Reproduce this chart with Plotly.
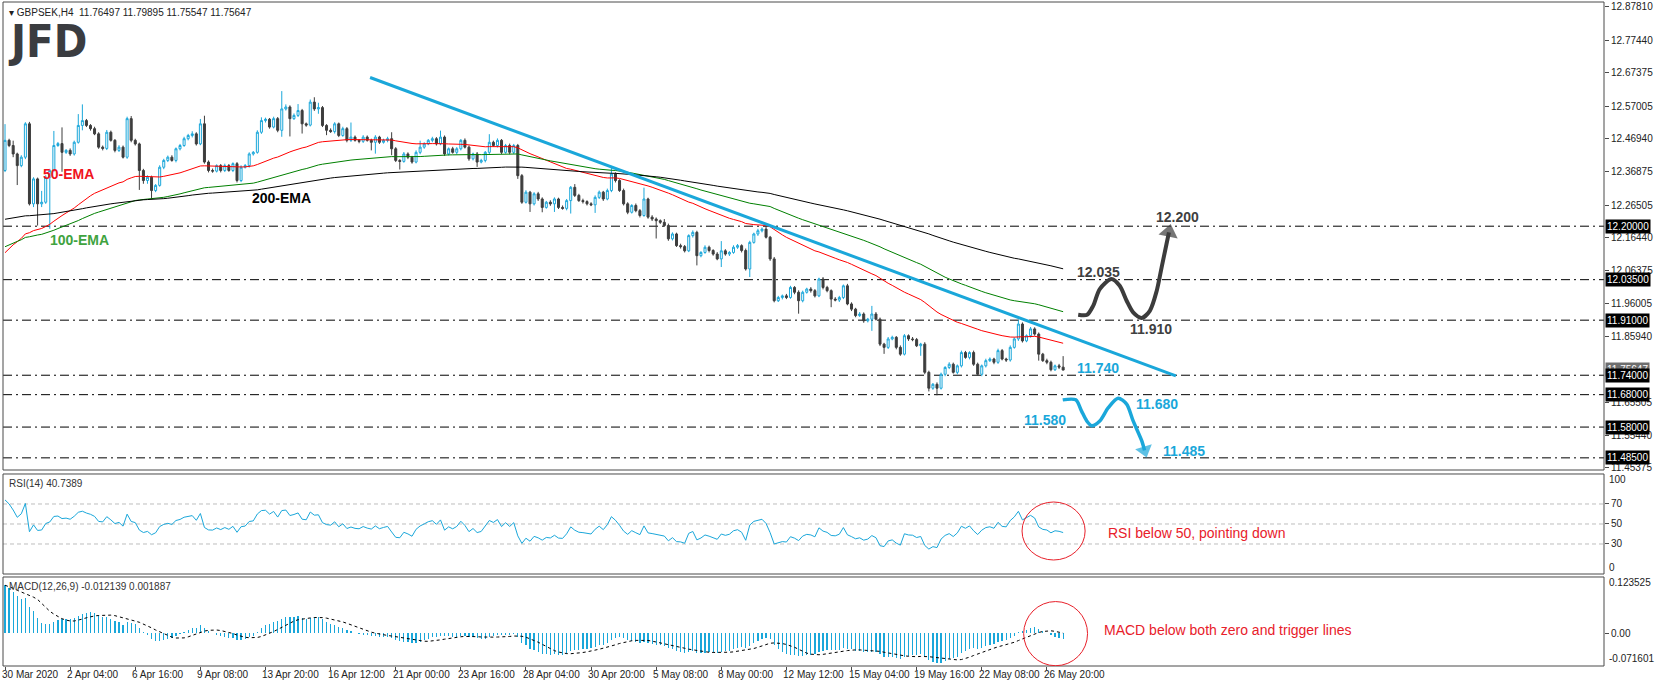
import plotly.graph_objects as go

# ---------------- data ----------------
time_labels = ["30 Mar 2020", "2 Apr 04:00", "6 Apr 16:00", "9 Apr 08:00", "13 Apr 20:00",
               "16 Apr 12:00", "21 Apr 00:00", "23 Apr 16:00", "28 Apr 04:00", "30 Apr 20:00",
               "5 May 08:00", "8 May 00:00", "12 May 12:00", "15 May 04:00", "19 May 16:00",
               "22 May 08:00", "26 May 20:00"]
label_step = 16

first_open = 12.372
closes = [
    12.465, 12.449, 12.423, 12.387, 12.413, 12.516, 12.269, 12.346, 12.269, 12.274,
    12.351, 12.372, 12.449, 12.455, 12.428, 12.434, 12.423, 12.459, 12.511, 12.526,
    12.511, 12.501, 12.485, 12.444, 12.440, 12.490, 12.465, 12.434, 12.444, 12.413,
    12.532, 12.465, 12.454, 12.372, 12.341, 12.351, 12.310, 12.326, 12.382, 12.403,
    12.413, 12.403, 12.439, 12.449, 12.470, 12.480, 12.485, 12.454, 12.516, 12.398,
    12.372, 12.370, 12.387, 12.372, 12.387, 12.372, 12.393, 12.341, 12.382, 12.387,
    12.423, 12.428, 12.490, 12.526, 12.530, 12.506, 12.532, 12.496, 12.562, 12.568,
    12.532, 12.542, 12.557, 12.516, 12.512, 12.583, 12.562, 12.566, 12.511, 12.496,
    12.492, 12.516, 12.480, 12.501, 12.465, 12.475, 12.465, 12.462, 12.475, 12.465,
    12.459, 12.475, 12.459, 12.465, 12.470, 12.439, 12.403, 12.400, 12.423, 12.413,
    12.398, 12.428, 12.444, 12.454, 12.465, 12.470, 12.454, 12.475, 12.423, 12.439,
    12.428, 12.439, 12.465, 12.444, 12.408, 12.423, 12.398, 12.403, 12.428, 12.459,
    12.449, 12.465, 12.428, 12.449, 12.428, 12.449, 12.356, 12.274, 12.305, 12.269,
    12.300, 12.284, 12.258, 12.274, 12.269, 12.284, 12.258, 12.255, 12.279, 12.320,
    12.295, 12.279, 12.276, 12.269, 12.266, 12.289, 12.305, 12.284, 12.310, 12.361,
    12.341, 12.310, 12.269, 12.243, 12.264, 12.248, 12.233, 12.284, 12.228, 12.222,
    12.217, 12.212, 12.202, 12.161, 12.176, 12.140, 12.137, 12.124, 12.171, 12.181,
    12.109, 12.119, 12.135, 12.125, 12.114, 12.099, 12.124, 12.114, 12.119, 12.135,
    12.140, 12.125, 12.068, 12.150, 12.176, 12.186, 12.191, 12.166, 12.099, 11.970,
    11.980, 11.985, 11.980, 12.011, 11.996, 11.970, 11.996, 12.006, 12.001, 11.985,
    12.037, 12.011, 12.001, 11.975, 11.972, 11.980, 12.016, 11.960, 11.944, 11.924,
    11.929, 11.908, 11.913, 11.929, 11.913, 11.836, 11.826, 11.852, 11.857, 11.826,
    11.805, 11.862, 11.852, 11.850, 11.831, 11.836, 11.749, 11.700, 11.712, 11.700,
    11.743, 11.764, 11.774, 11.749, 11.769, 11.810, 11.795, 11.810, 11.774, 11.743,
    11.769, 11.785, 11.790, 11.780, 11.816, 11.790, 11.787, 11.826, 11.852, 11.898,
    11.846, 11.862, 11.883, 11.867, 11.805, 11.785, 11.780, 11.757, 11.769, 11.765,
    11.756]

# wick lengths above / below the candle body, in thousandths
upper_wick = [
    50, 5, 15, 4, 6, 5, 6, 5, 4, 35,
    6, 5, 45, 5, 50, 4, 6, 5, 35, 50,
    5, 4, 6, 5, 5, 7, 5, 4, 6, 5,
    6, 8, 5, 4, 5, 6, 5, 4, 6, 5,
    5, 6, 4, 5, 6, 5, 8, 5, 15, 25,
    5, 6, 4, 5, 6, 5, 4, 5, 6, 5,
    5, 4, 6, 10, 5, 4, 6, 5, 55, 8,
    5, 6, 20, 5, 4, 8, 15, 15, 5, 4,
    6, 5, 4, 6, 5, 45, 5, 4, 6, 5,
    5, 6, 4, 5, 6, 20, 5, 4, 6, 5,
    4, 6, 20, 5, 4, 6, 5, 20, 5, 4,
    6, 5, 4, 6, 5, 4, 6, 5, 4, 25,
    5, 6, 4, 5, 6, 5, 5, 5, 6, 4,
    5, 6, 5, 4, 6, 5, 4, 6, 5, 4,
    10, 5, 6, 4, 5, 6, 5, 4, 6, 25,
    5, 4, 6, 5, 4, 6, 5, 35, 4, 6,
    5, 4, 10, 6, 5, 4, 6, 5, 4, 6,
    5, 4, 6, 5, 4, 6, 30, 5, 4, 6,
    5, 4, 6, 5, 4, 6, 5, 12, 4, 6,
    5, 4, 6, 5, 4, 6, 5, 4, 6, 5,
    4, 6, 5, 4, 6, 5, 4, 6, 5, 4,
    6, 5, 4, 25, 6, 5, 4, 6, 5, 4,
    6, 5, 4, 6, 5, 4, 6, 5, 4, 6,
    5, 4, 6, 5, 4, 6, 5, 4, 6, 5,
    4, 6, 5, 4, 6, 5, 4, 6, 5, 12,
    5, 4, 6, 5, 5, 4, 6, 5, 4, 6,
    34]
lower_wick = [
    5, 5, 10, 60, 5, 6, 5, 10, 67, 10,
    5, 159, 5, 4, 60, 5, 6, 5, 4, 15,
    5, 6, 4, 5, 6, 5, 4, 6, 5, 4,
    5, 6, 5, 60, 10, 10, 25, 5, 4, 6,
    5, 4, 6, 5, 4, 5, 6, 5, 4, 5,
    6, 5, 4, 6, 5, 4, 5, 6, 5, 4,
    6, 5, 4, 5, 6, 5, 4, 6, 20, 5,
    55, 4, 5, 30, 5, 4, 6, 15, 5, 15,
    4, 6, 5, 4, 6, 5, 4, 6, 5, 4,
    25, 35, 5, 4, 6, 20, 5, 25, 4, 6,
    5, 4, 6, 5, 4, 6, 5, 4, 6, 5,
    4, 6, 5, 4, 6, 5, 15, 4, 6, 5,
    4, 6, 5, 4, 6, 5, 10, 5, 4, 25,
    5, 6, 15, 4, 6, 25, 5, 4, 6, 40,
    5, 4, 6, 5, 4, 25, 5, 6, 4, 5,
    6, 4, 5, 6, 4, 5, 6, 4, 5, 6,
    55, 5, 4, 6, 5, 4, 6, 5, 4, 6,
    30, 5, 4, 6, 5, 4, 25, 5, 6, 4,
    5, 6, 5, 25, 4, 6, 5, 4, 6, 5,
    4, 6, 5, 4, 6, 40, 5, 4, 6, 5,
    4, 6, 5, 25, 4, 6, 5, 4, 6, 5,
    4, 6, 5, 36, 4, 6, 20, 5, 4, 6,
    5, 4, 6, 5, 4, 31, 6, 10, 5, 22,
    4, 6, 5, 4, 6, 5, 4, 6, 5, 4,
    6, 5, 4, 6, 5, 4, 6, 5, 4, 6,
    5, 4, 6, 5, 20, 4, 6, 5, 4, 6,
    1]

ema_periods = [50, 100, 200]
ema_seeds = [12.104, 12.130, 12.219]       # indicator values at the first visible bar
rsi_period = 14
rsi_seed_gain, rsi_seed_loss = 0.010, 0.006
macd_fast, macd_slow, macd_sig = 12, 26, 9
macd_fast_seed, macd_slow_seed = 12.42, 12.31

levels = [12.200, 12.035, 11.910, 11.740, 11.680, 11.580, 11.485]
price_ticks = [12.87810, 12.77440, 12.67375, 12.57005, 12.46940, 12.36875, 12.26505,
               12.16440, 12.06375, 11.96005, 11.85940, 11.65505, 11.55440, 11.45375]
last_price = 11.75647
rsi_ticks = [30, 50, 70]
macd_top, macd_bottom = 0.123525, -0.071601

# drawn objects (trend line and scenario sketches), in bar-index / price units
trend_x = [89.7, 287.7]
trend_y = [12.659, 11.738]
bull_x = [263.7, 265.9, 267.4, 269.0, 271.9, 273.9, 275.6, 277.2, 279.3, 281.3, 283.0, 284.2, 285.4, 286.0]
bull_y = [11.927, 11.927, 11.955, 12.006, 12.037, 12.016, 11.970, 11.934, 11.917, 11.939, 12.001, 12.073, 12.145, 12.181]
bear_x = [259.9, 263.1, 264.5, 265.8, 267.0, 269.0, 271.1, 273.5, 275.6, 277.2, 279.3, 280.0]
bear_y = [11.664, 11.664, 11.630, 11.599, 11.584, 11.599, 11.640, 11.669, 11.651, 11.599, 11.538, 11.508]

# ---------------- derived series ----------------
N = len(closes)
xs = list(range(N))
opens = [first_open] + closes[:-1]
highs = [max(o, c) + u / 1000 for o, c, u in zip(opens, closes, upper_wick)]
lows = [min(o, c) - w / 1000 for o, c, w in zip(opens, closes, lower_wick)]


def ema(vals, period, seed):
    k = 2 / (period + 1)
    out, e = [], seed
    for v in vals:
        e += k * (v - e)
        out.append(e)
    return out


emas = [ema(closes, p, s) for p, s in zip(ema_periods, ema_seeds)]

ag, al = rsi_seed_gain, rsi_seed_loss
rsi, prev = [], first_open
for c in closes:
    ch = c - prev
    ag = (ag * (rsi_period - 1) + max(ch, 0)) / rsi_period
    al = (al * (rsi_period - 1) + max(-ch, 0)) / rsi_period
    rsi.append(100 - 100 / (1 + ag / al))
    prev = c

fast = ema(closes, macd_fast, macd_fast_seed)
slow = ema(closes, macd_slow, macd_slow_seed)
macd = [f - s for f, s in zip(fast, slow)]
signal = []
for i in range(N):
    win = macd[max(0, i - macd_sig + 1): i + 1]
    signal.append(sum(win) / len(win))

# ---------------- styling ----------------
CYAN = "#1AA7DA"
DARK = "#3D3D3D"
RED = "#E8202A"
FONT = "Liberation Sans, Arial, sans-serif"
FRAME = "#4a4a4a"

fig = go.Figure()

fig.add_trace(go.Candlestick(
    x=xs, open=opens, high=highs, low=lows, close=closes,
    increasing=dict(line=dict(color=CYAN, width=1), fillcolor="white"),
    decreasing=dict(line=dict(color=DARK, width=1), fillcolor=DARK),
    whiskerwidth=0, xaxis="x", yaxis="y", showlegend=False, hoverinfo="skip"))

for vals, col in zip(emas, ["#FF0000", "#008000", "#000000"]):
    fig.add_trace(go.Scatter(x=xs, y=vals, mode="lines", line=dict(color=col, width=1),
                             xaxis="x", yaxis="y", showlegend=False, hoverinfo="skip"))

# scenario sketches
fig.add_trace(go.Scatter(
    x=bull_x, y=bull_y, mode="lines+markers",
    line=dict(color="#3C3C3C", width=4, shape="spline", smoothing=0.8),
    marker=dict(symbol="triangle-up", size=[0] * (len(bull_x) - 1) + [17],
                color="#3C3C3C", angleref="previous", line=dict(width=0)),
    xaxis="x", yaxis="y", showlegend=False, hoverinfo="skip"))
fig.add_trace(go.Scatter(
    x=bear_x, y=bear_y, mode="lines+markers",
    line=dict(color=CYAN, width=3.5, shape="spline", smoothing=0.8),
    marker=dict(symbol="triangle-up", size=[0] * (len(bear_x) - 1) + [15],
                color=CYAN, angleref="previous", line=dict(width=0)),
    xaxis="x", yaxis="y", showlegend=False, hoverinfo="skip"))

# RSI
fig.add_trace(go.Scatter(x=xs, y=rsi, mode="lines", line=dict(color=CYAN, width=1),
                         xaxis="x", yaxis="y2", showlegend=False, hoverinfo="skip"))
# MACD
fig.add_trace(go.Bar(x=xs, y=macd, width=0.3, marker=dict(color=CYAN, line=dict(width=0)),
                     xaxis="x", yaxis="y3", showlegend=False, hoverinfo="skip"))
fig.add_trace(go.Scatter(x=xs, y=signal, mode="lines", line=dict(color="black", width=1, dash="dot"),
                         xaxis="x", yaxis="y3", showlegend=False, hoverinfo="skip"))

# ---------------- layout ----------------
main_dom = [0.29518, 1.0]
rsi_dom = [0.13855, 0.28916]
macd_dom = [0.0, 0.13404]
label_idx = [i * label_step for i in range(len(time_labels))]

axis_font = dict(family=FONT, size=10, color="#222222")

shapes = []
for d in (main_dom, rsi_dom, macd_dom):
    shapes.append(dict(type="rect", xref="paper", yref="paper", x0=0, x1=1, y0=d[0], y1=d[1],
                       line=dict(color=FRAME, width=1), layer="above"))
for lv in levels:
    shapes.append(dict(type="line", xref="paper", yref="y", x0=0, x1=1, y0=lv, y1=lv,
                       line=dict(color="black", width=1, dash="9px,4px,2px,4px"), layer="below"))
for lv in rsi_ticks:
    shapes.append(dict(type="line", xref="paper", yref="y2", x0=0, x1=1, y0=lv, y1=lv,
                       line=dict(color="#BDBDBD", width=1, dash="4px,3px"), layer="below"))
shapes.append(dict(type="line", xref="x", yref="y", x0=trend_x[0], x1=trend_x[1],
                   y0=trend_y[0], y1=trend_y[1], line=dict(color=CYAN, width=3)))
shapes.append(dict(type="circle", xref="x", yref="y2", x0=249.9, x1=265.4, y0=14, y1=72,
                   line=dict(color=RED, width=1)))
shapes.append(dict(type="circle", xref="x", yref="y3", x0=250.3, x1=266.0, y0=-0.071, y1=0.0697,
                   line=dict(color=RED, width=1)))

ann = []
# time labels
for idx, t in zip(label_idx, time_labels):
    ann.append(dict(xref="x", x=idx, yref="paper", y=0, xanchor="left", yanchor="top",
                    xshift=-5, yshift=-1, text=t, showarrow=False, font=axis_font))
# title, logo, indicator captions
ann.append(dict(xref="paper", x=0, yref="paper", y=1, xanchor="left", yanchor="top", xshift=4, yshift=-3,
                text="\u25BE GBPSEK,H4\u00a0\u00a011.76497 11.79895 11.75547 11.75647",
                showarrow=False, font=dict(family=FONT, size=10, color="#222222")))
ann.append(dict(xref="paper", x=0, yref="paper", y=1, xanchor="left", yanchor="top", xshift=3, yshift=-11,
                text="<b>JFD</b>", showarrow=False,
                font=dict(family="DejaVu Sans Condensed, Liberation Sans, Arial", size=45, color="#3A3C40")))
ann.append(dict(xref="paper", x=0, yref="y2 domain", y=1, xanchor="left", yanchor="top", xshift=4, yshift=-2,
                text="RSI(14) 40.7389", showarrow=False, font=dict(family=FONT, size=10, color="#333333")))
ann.append(dict(xref="paper", x=0, yref="y3 domain", y=1, xanchor="left", yanchor="top", xshift=4, yshift=-2,
                text="MACD(12,26,9) -0.012139 0.001887", showarrow=False,
                font=dict(family=FONT, size=10, color="#333333")))
# edge labels of the indicator scales
for yref, yv, txt, sh in (("y2", 100, "100", -6), ("y2", 0, "0", 7),
                          ("y3", macd_top, f"{macd_top:.6f}", -6), ("y3", macd_bottom, f"{macd_bottom:.6f}", 7)):
    ann.append(dict(xref="paper", x=1, yref=yref, y=yv, xanchor="left", yanchor="middle", xshift=3, yshift=sh,
                    text=txt, showarrow=False, font=axis_font))
# price boxes
ann.append(dict(xref="paper", x=1, yref="y", y=last_price, xanchor="left", yanchor="middle", xshift=1,
                text=f"{last_price:.5f}", showarrow=False, bgcolor="#6E6E6E", borderpad=1,
                font=dict(family=FONT, size=10, color="white")))
for lv in levels:
    ann.append(dict(xref="paper", x=1, yref="y", y=lv, xanchor="left", yanchor="middle", xshift=1,
                    text=f"{lv:.5f}", showarrow=False, bgcolor="black", borderpad=1,
                    font=dict(family=FONT, size=10, color="white")))
# EMA labels
for x_, y_, t, col in ((15.7, 12.3625, "50-EMA", "#F0141E"), (18.4, 12.158, "100-EMA", "#3FA33F"),
                       (67.9, 12.2875, "200-EMA", "#000000")):
    ann.append(dict(xref="x", x=x_, yref="y", y=y_, text=f"<b>{t}</b>", showarrow=False,
                    font=dict(family=FONT, size=14, color=col)))
# scenario numbers
for x_, y_, t, col in ((288.0, 12.2297, "12.200", "#404040"), (268.7, 12.0597, "12.035", "#404040"),
                       (281.7, 11.8836, "11.910", "#404040"), (268.6, 11.763, "11.740", CYAN),
                       (283.0, 11.652, "11.680", CYAN), (255.5, 11.6024, "11.580", CYAN),
                       (289.7, 11.5066, "11.485", CYAN)):
    ann.append(dict(xref="x", x=x_, yref="y", y=y_, text=f"<b>{t}</b>", showarrow=False,
                    font=dict(family=FONT, size=14, color=col)))
# indicator comments
ann.append(dict(xref="x", x=270.5, yref="y2", y=41, xanchor="left", yanchor="middle",
                text="RSI below 50, pointing down", showarrow=False,
                font=dict(family=FONT, size=14, color=RED)))
ann.append(dict(xref="x", x=269.5, yref="y3", y=0.008, xanchor="left", yanchor="middle",
                text="MACD below both zero and trigger lines", showarrow=False,
                font=dict(family=FONT, size=14, color=RED)))

yaxis_common = dict(side="right", anchor="x", showgrid=False, zeroline=False, ticks="outside",
                    ticklen=4, tickcolor=FRAME, tickfont=axis_font, showline=False, fixedrange=True)

fig.update_layout(
    width=1655, height=686,
    margin=dict(l=3, r=51, t=2, b=20),
    paper_bgcolor="white", plot_bgcolor="white",
    showlegend=False, bargap=0, hovermode=False,
    xaxis=dict(domain=[0, 1], anchor="y3", range=[-0.5, 392.9], showgrid=False, zeroline=False,
               tickvals=label_idx, showticklabels=False, ticks="outside", ticklen=3, tickcolor=FRAME,
               showline=False, rangeslider=dict(visible=False), fixedrange=True),
    yaxis=dict(domain=main_dom, range=[11.4475, 12.892], tickvals=price_ticks,
               ticktext=[f"{v:.5f}" for v in price_ticks], **yaxis_common),
    yaxis2=dict(domain=rsi_dom, range=[0, 100], tickvals=rsi_ticks,
                ticktext=[str(v) for v in rsi_ticks], **yaxis_common),
    yaxis3=dict(domain=macd_dom, range=[macd_bottom, macd_top], tickvals=[0],
                ticktext=["0.00"], **yaxis_common),
    shapes=shapes, annotations=ann,
)

fig.write_html("out.html", config={"displayModeBar": False, "staticPlot": True},
               post_script="document.body.style.margin='0px';")
